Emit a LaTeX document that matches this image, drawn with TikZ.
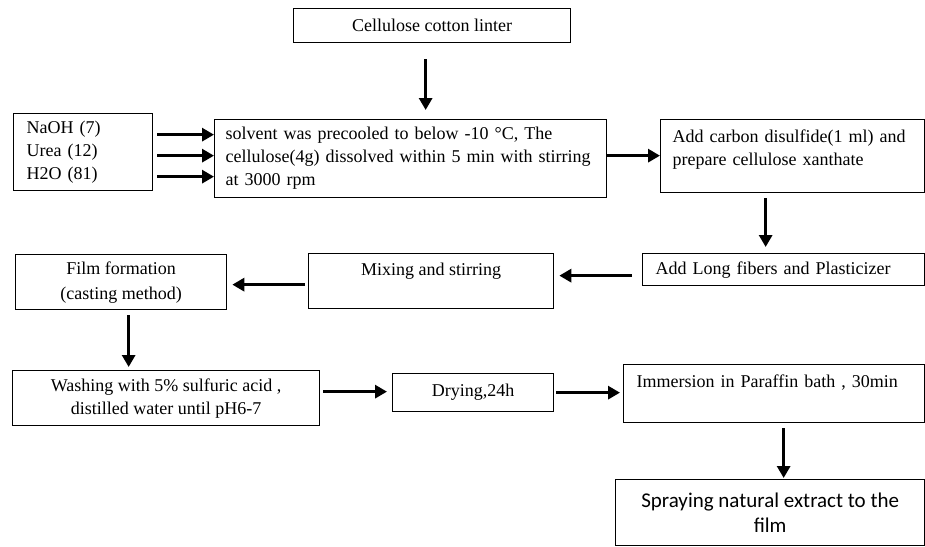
\documentclass[tikz,border=0pt]{standalone}
\usepackage{fontspec}
\setmainfont{Liberation Serif}
\newfontfamily\sprayfont{Carlito}
\usetikzlibrary{arrows.meta}
\tikzset{>={Triangle[length=12pt,width=13pt]},
  box/.style={draw,line width=1.3pt,anchor=north west,inner ysep=0pt,font=\fontsize{18}{23}\selectfont},
  flow/.style={->,line width=3.6pt}}
\begin{document}
\begin{tikzpicture}[x=1pt,y=-1pt]
\useasboundingbox (0,0) rectangle (925,546);
% first row
\node[box,minimum width=277pt,minimum height=34pt] (linter) at (293,8) {Cellulose cotton linter};
\node[box,minimum width=139pt,minimum height=77pt,text width=113pt,inner xsep=13pt,align=left] (naoh) at (13,113) {NaOH (7)\\Urea (12)\\H2O (81)};
\node[box,minimum width=392pt,minimum height=78pt,text width=370pt,inner xsep=11pt,align=left] (solvent) at (214,119) {solvent was precooled to below -10 °C, The\\cellulose(4g) dissolved within 5 min with stirring\\at 3000 rpm};
\node[box,minimum width=264pt,text width=240pt,inner xsep=12pt,align=left,text height=23pt,text depth=50pt] (xanthate) at (660,119) {Add carbon disulfide(1 ml) and\\prepare cellulose xanthate};
% second row
\node[box,minimum width=282pt,minimum height=32pt,text width=256pt,inner xsep=13pt,align=left] (fibers) at (642,253) {Add Long fibers and Plasticizer};
\node[box,minimum width=245pt,text height=22pt,text depth=33pt] (mixing) at (308,253) {Mixing and stirring};
\node[box,minimum width=211pt,minimum height=55pt,align=center] (film) at (15,254) {Film formation\\[2pt](casting method)};
% third row
\node[box,minimum width=307pt,minimum height=55pt,align=center] (washing) at (12,370) {Washing with 5\% sulfuric acid ,\\distilled water until pH6-7};
\node[box,minimum width=161pt,minimum height=38pt] (drying) at (392,373) {Drying,24h};
\node[box,minimum width=301pt,text width=275pt,inner xsep=13pt,align=left,text height=23pt,text depth=35pt] (paraffin) at (623,364) {Immersion in Paraffin bath , 30min};
\node[box,minimum width=309pt,minimum height=66pt,align=center,font=\sprayfont\fontsize{21}{25}\selectfont] (spray) at (615,479) {Spraying natural extract to the\\film};
% arrows
\draw[flow,shorten <=16pt,shorten >=9pt] ([xshift=-6.5pt]linter.south) -- ([xshift=-6.5pt]linter.south |- solvent.north);
\draw[flow,shorten <=4pt] ([yshift=17.5pt]naoh.east) -- ([yshift=17.5pt]naoh.east -| solvent.west);
\draw[flow,shorten <=4pt] ([yshift=-3.5pt]naoh.east) -- ([yshift=-3.5pt]naoh.east -| solvent.west);
\draw[flow,shorten <=4pt] ([yshift=-24.5pt]naoh.east) -- ([yshift=-24.5pt]naoh.east -| solvent.west);
\draw[flow] ([yshift=3pt]solvent.east) -- ([yshift=3pt]solvent.east -| xanthate.west);
\draw[flow,shorten <=5pt,shorten >=6pt] ([xshift=-27pt]xanthate.south) -- ([xshift=-27pt]xanthate.south |- fibers.north);
\draw[flow,shorten <=10pt,shorten >=5pt] ([yshift=-6pt]fibers.west) -- ([yshift=-6pt]fibers.west -| mixing.east);
\draw[flow,shorten <=3pt,shorten >=5pt] ([yshift=-3.5pt]mixing.west) -- ([yshift=-3.5pt]mixing.west -| film.east);
\draw[flow,shorten <=5pt,shorten >=3pt] ([xshift=7.5pt]film.south) -- ([xshift=7.5pt]film.south |- washing.north);
\draw[flow,shorten <=3pt,shorten >=5pt] ([yshift=6.5pt]washing.east) -- ([yshift=6.5pt]washing.east -| drying.west);
\draw[flow,shorten <=2pt,shorten >=3pt] (drying.east) -- (drying.east -| paraffin.west);
\draw[flow,shorten <=5pt,shorten >=1pt] ([xshift=9.5pt]paraffin.south) -- ([xshift=9.5pt]paraffin.south |- spray.north);
\end{tikzpicture}
\end{document}
